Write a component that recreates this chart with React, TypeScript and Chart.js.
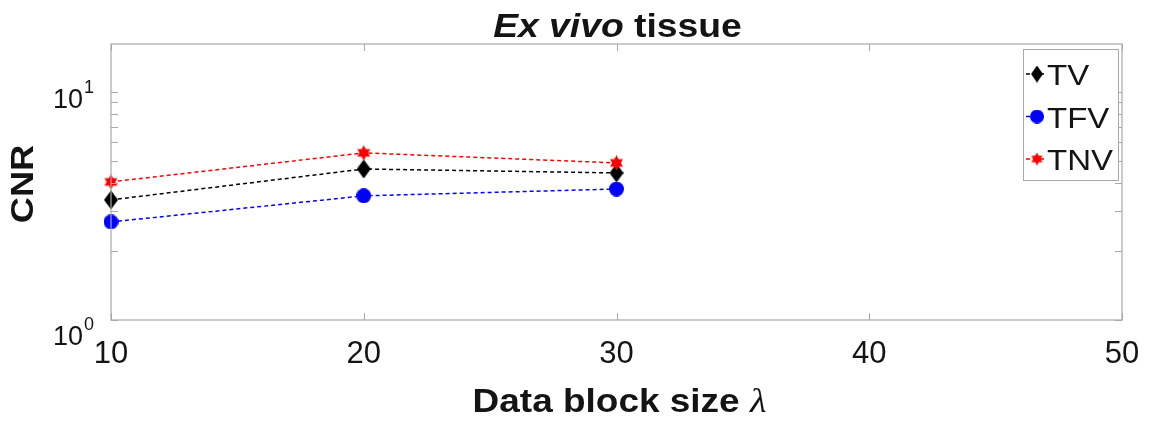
import React, { useEffect, useRef } from 'react';
import { Chart, registerables } from 'chart.js';

Chart.register(...registerables);

// ---- data ----
const BLOCK_SIZES = [10, 20, 30];
const TV_VALUES = [3.36, 4.59, 4.41];
const TFV_VALUES = [2.69, 3.5, 3.75];
const TNV_VALUES = [4.03, 5.4, 4.88];
const SERIES_LABELS = ['TV', 'TFV', 'TNV'];
const X_TICKS = [10, 20, 30, 40, 50];
const Y_MAJOR_TICKS = [1, 10];
const Y_MAJOR_EXPONENTS = ['0', '1'];
const Y_MINOR_TICKS = [2, 3, 4, 5, 6, 7, 8, 9];
const X_MIN = 10;
const X_MAX = 50;
const Y_MIN = 1;
const Y_MAX = 16.2;
const TITLE_ITALIC = 'Ex vivo';
const TITLE_REST = ' tissue';
const X_TITLE = 'Data block size ';
const X_TITLE_SYMBOL = 'λ';
const Y_TITLE = 'CNR';

const SANS = '"Liberation Sans", Arial, sans-serif';
const SERIF = '"Liberation Serif", "DejaVu Serif", serif';
const AXIS_COLOR = '#a9a9a9';
const TEXT_COLOR = '#141414';

function makeDiamond(w: number, h: number, color: string) {
  const c = document.createElement('canvas');
  c.width = w;
  c.height = h;
  const g = c.getContext('2d')!;
  g.fillStyle = color;
  g.beginPath();
  g.moveTo(w / 2, 0);
  g.lineTo(w, h / 2);
  g.lineTo(w / 2, h);
  g.lineTo(0, h / 2);
  g.closePath();
  g.fill();
  return c;
}

function makeCircle(d: number, color: string) {
  const c = document.createElement('canvas');
  c.width = d;
  c.height = d;
  const g = c.getContext('2d')!;
  g.fillStyle = color;
  g.beginPath();
  g.arc(d / 2, d / 2, d / 2, 0, Math.PI * 2);
  g.fill();
  return c;
}

function makeHexagram(size: number, color: string) {
  const c = document.createElement('canvas');
  c.width = size;
  c.height = size;
  const g = c.getContext('2d')!;
  const R = size / 2;
  const r = R * 0.58;
  g.fillStyle = color;
  g.beginPath();
  for (let k = 0; k < 12; k++) {
    const ang = (-90 + k * 30) * (Math.PI / 180);
    const rad = k % 2 === 0 ? R : r;
    const px = R + rad * Math.cos(ang);
    const py = R + rad * Math.sin(ang);
    if (k === 0) g.moveTo(px, py);
    else g.lineTo(px, py);
  }
  g.closePath();
  g.fill();
  return c;
}

type Part = { t: string; f: string };

function drawParts(
  ctx: CanvasRenderingContext2D,
  parts: Part[],
  cx: number,
  baseline: number,
  stretch: number
) {
  let total = 0;
  const widths = parts.map((p) => {
    ctx.font = p.f;
    const w = ctx.measureText(p.t).width;
    total += w;
    return w;
  });
  ctx.save();
  ctx.translate(cx - (total * stretch) / 2, baseline);
  ctx.scale(stretch, 1);
  ctx.textAlign = 'left';
  ctx.textBaseline = 'alphabetic';
  let x = 0;
  parts.forEach((p, i) => {
    ctx.font = p.f;
    ctx.fillText(p.t, x, 0);
    x += widths[i];
  });
  ctx.restore();
}

export default function App() {
  const canvasRef = useRef<HTMLCanvasElement | null>(null);

  useEffect(() => {
    if (!canvasRef.current) return;

    const tvMarker = makeDiamond(14, 19, '#000000');
    const tfvMarker = makeCircle(15, '#0000ff');
    const tnvMarker = makeHexagram(15, '#ff0000');
    const tvLegend = makeDiamond(12, 17, '#000000');
    const tfvLegend = makeCircle(14, '#0000ff');
    const tnvLegend = makeHexagram(13, '#ff0000');
    const colors = ['#000000', '#0000ff', '#ff0000'];
    const legendMarkers = [tvLegend, tfvLegend, tnvLegend];
    // baseline offsets of the 10^n labels below their tick (bottom label sits lower)
    const yLabelOffsets = [25, 16];

    const matlabPlugin = {
      id: 'matlabDecor',
      afterDraw(chart: any) {
        const { ctx, chartArea: a } = chart;
        const xs = chart.scales.x;
        const ys = chart.scales.y;
        const TL = 7;
        ctx.save();

        // box
        ctx.strokeStyle = AXIS_COLOR;
        ctx.lineWidth = 1.2;
        ctx.strokeRect(a.left, a.top, a.right - a.left, a.bottom - a.top);

        // x ticks (bottom and top, inward)
        ctx.lineWidth = 1;
        X_TICKS.forEach((v) => {
          const px = Math.round(xs.getPixelForValue(v)) + 0.5;
          ctx.beginPath();
          ctx.moveTo(px, a.bottom);
          ctx.lineTo(px, a.bottom - TL);
          ctx.moveTo(px, a.top);
          ctx.lineTo(px, a.top + TL);
          ctx.stroke();
        });
        // y ticks (left and right, inward)
        [...Y_MAJOR_TICKS, ...Y_MINOR_TICKS].forEach((v) => {
          const py = Math.round(ys.getPixelForValue(v)) + 0.5;
          ctx.beginPath();
          ctx.moveTo(a.left, py);
          ctx.lineTo(a.left + TL, py);
          ctx.moveTo(a.right, py);
          ctx.lineTo(a.right - TL, py);
          ctx.stroke();
        });

        // x tick labels
        ctx.fillStyle = TEXT_COLOR;
        ctx.font = `31px ${SANS}`;
        ctx.textAlign = 'center';
        ctx.textBaseline = 'alphabetic';
        X_TICKS.forEach((v) => {
          ctx.fillText(String(v), xs.getPixelForValue(v), a.bottom + 43);
        });

        // y tick labels 10^n
        Y_MAJOR_TICKS.forEach((v, i) => {
          const py = ys.getPixelForValue(v);
          const base = py + yLabelOffsets[i];
          ctx.font = `27px ${SANS}`;
          ctx.textAlign = 'right';
          ctx.fillText('10', a.left - 28, base);
          ctx.font = `18px ${SANS}`;
          ctx.textAlign = 'left';
          ctx.fillText(Y_MAJOR_EXPONENTS[i], a.left - 27, base - 15);
        });

        // title
        drawParts(
          ctx,
          [
            { t: TITLE_ITALIC, f: `italic bold 33px ${SANS}` },
            { t: TITLE_REST, f: `bold 33px ${SANS}` },
          ],
          (a.left + a.right) / 2 + 1,
          37,
          1.13
        );

        // x axis title
        drawParts(
          ctx,
          [
            { t: X_TITLE, f: `bold 33px ${SANS}` },
            { t: X_TITLE_SYMBOL, f: `italic 34px ${SERIF}` },
          ],
          (a.left + a.right) / 2 + 3,
          412,
          1.12
        );

        // y axis title
        ctx.save();
        ctx.translate(33, (a.top + a.bottom) / 2 + 2);
        ctx.rotate(-Math.PI / 2);
        ctx.scale(1.13, 1);
        ctx.font = `bold 32px ${SANS}`;
        ctx.textAlign = 'center';
        ctx.textBaseline = 'alphabetic';
        ctx.fillText(Y_TITLE, 0, 0);
        ctx.restore();

        // legend
        const lx0 = a.right - 99;
        const lx1 = a.right - 4;
        const ly0 = a.top + 5;
        const ly1 = a.top + 136;
        ctx.fillStyle = '#ffffff';
        ctx.fillRect(lx0, ly0, lx1 - lx0, ly1 - ly0);
        ctx.strokeStyle = AXIS_COLOR;
        ctx.lineWidth = 1;
        ctx.strokeRect(lx0 + 0.5, ly0 + 0.5, lx1 - lx0, ly1 - ly0);
        SERIES_LABELS.forEach((lab, i) => {
          const base = ly0 + 36 + i * 42.5;
          const my = base - 11;
          const mx = lx0 + 14;
          ctx.save();
          ctx.strokeStyle = colors[i];
          ctx.lineWidth = 1.5;
          ctx.setLineDash([4, 3]);
          ctx.beginPath();
          ctx.moveTo(lx0 + 3, my);
          ctx.lineTo(lx0 + 24, my);
          ctx.stroke();
          ctx.restore();
          const m = legendMarkers[i];
          ctx.drawImage(m, mx - m.width / 2, my - m.height / 2);
          ctx.save();
          ctx.translate(lx0 + 24, base);
          ctx.scale(1.1, 1);
          ctx.fillStyle = TEXT_COLOR;
          ctx.font = `30px ${SANS}`;
          ctx.textAlign = 'left';
          ctx.textBaseline = 'alphabetic';
          ctx.fillText(lab, 0, 0);
          ctx.restore();
        });

        ctx.restore();
      },
    };

    const mk = (vals: number[]) => BLOCK_SIZES.map((x, i) => ({ x, y: vals[i] }));

    const chart = new Chart(canvasRef.current, {
      type: 'line',
      data: {
        datasets: [
          {
            label: SERIES_LABELS[0],
            data: mk(TV_VALUES),
            borderColor: colors[0],
            backgroundColor: colors[0],
            borderWidth: 1.5,
            borderDash: [4, 3],
            pointStyle: tvMarker as any,
            clip: false as any,
            order: 3,
          },
          {
            label: SERIES_LABELS[1],
            data: mk(TFV_VALUES),
            borderColor: colors[1],
            backgroundColor: colors[1],
            borderWidth: 1.5,
            borderDash: [4, 3],
            pointStyle: tfvMarker as any,
            clip: false as any,
            order: 2,
          },
          {
            label: SERIES_LABELS[2],
            data: mk(TNV_VALUES),
            borderColor: colors[2],
            backgroundColor: colors[2],
            borderWidth: 1.5,
            borderDash: [4, 3],
            pointStyle: tnvMarker as any,
            clip: false as any,
            order: 1,
          },
        ],
      },
      options: {
        responsive: false,
        animation: false,
        devicePixelRatio: 1,
        layout: { padding: { left: 111, right: 31, top: 44, bottom: 101 } },
        plugins: {
          legend: { display: false },
          title: { display: false },
          tooltip: { enabled: false },
        },
        elements: { line: { tension: 0 } },
        scales: {
          x: { type: 'linear', min: X_MIN, max: X_MAX, display: false },
          y: { type: 'logarithmic', min: Y_MIN, max: Y_MAX, display: false },
        },
      },
      plugins: [matlabPlugin],
    });

    return () => chart.destroy();
  }, []);

  return (
    <div style={{ position: 'absolute', left: 0, top: 0, width: 1153, height: 421, background: '#ffffff' }}>
      <canvas ref={canvasRef} width={1153} height={421} style={{ width: 1153, height: 421, display: 'block' }} />
    </div>
  );
}
